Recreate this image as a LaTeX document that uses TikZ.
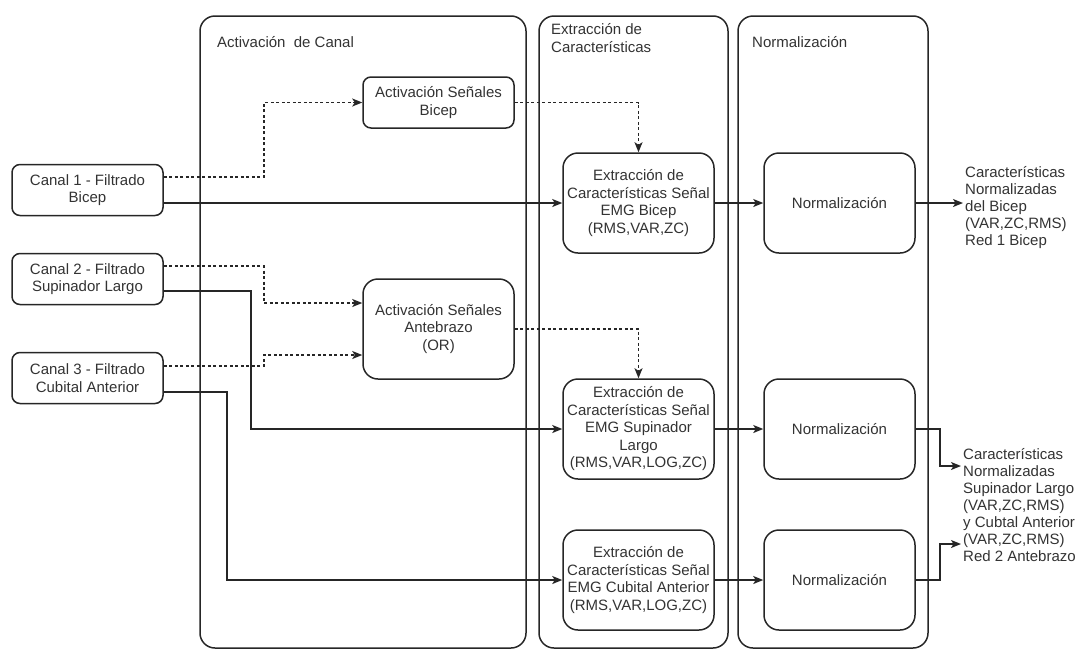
\documentclass[tikz,border=0pt]{standalone}
\usepackage{fontspec}
\setmainfont{Liberation Sans}
\usetikzlibrary{arrows.meta,positioning,calc}
\definecolor{ink}{HTML}{262626}
\definecolor{txt}{HTML}{333333}
\begin{document}
\begin{tikzpicture}[x=1pt,y=-1pt,
  every node/.style={text=txt,font=\fontsize{15}{17.5}\selectfont},
  lane/.style={draw=ink,line width=1.5pt,rounded corners=15pt},
  smallbox/.style={draw=ink,line width=1.5pt,rounded corners=8pt,align=center,
    minimum width=151pt,minimum height=51pt,inner sep=0pt},
  bigbox/.style={draw=ink,line width=1.5pt,rounded corners=15pt,align=center,
    minimum width=151pt,minimum height=100pt,inner sep=0pt},
  lanetitle/.style={anchor=west,inner sep=0pt,align=left},
  outtext/.style={anchor=west,inner sep=2pt,align=left,font=\fontsize{15}{17}\selectfont},
  flow/.style={draw=ink,line width=1.5pt,-{Stealth[length=10pt,width=8pt,inset=2.5pt]}},
  trigger/.style={flow,dash pattern=on 3pt off 2.5pt}]

\useasboundingbox (0,0) rectangle (1081,651);

% swimlanes
\draw[lane] (200,16) rectangle (526,648);
\draw[lane] (539,16) rectangle (728,648);
\draw[lane] (738,16) rectangle (928,648);
\node[lanetitle] (t1) at (217,42) {Activación\ \ de Canal};
\node[lanetitle] (t2) at (551,38) {Extracción de\\Características};
\node[lanetitle] (t3) at (752,42) {Normalización};

% input channels
\node[smallbox] (c1) at (87.5,190) {Canal 1 - Filtrado\\Bicep};
\node[smallbox] (c2) at (87.5,279) {Canal 2 - Filtrado\\Supinador Largo};
\node[smallbox] (c3) at (87.5,378) {Canal 3 - Filtrado\\Cubital Anterior};

% activation
\node[smallbox] (ab) at (438.5,102.5) {Activación Señales\\Bicep};
\node[bigbox] (aa) at (438.5,329) {Activación Señales\\Antebrazo\\(OR)};

% feature extraction
\node[bigbox] (e1) at (638.5,203) {Extracción de\\Características Señal\\EMG Bicep\\(RMS,VAR,ZC)};
\node[bigbox] (e2) at (638.5,429) {Extracción de\\Características Señal\\EMG Supinador\\Largo\\(RMS,VAR,LOG,ZC)};
\node[bigbox] (e3) at (638.5,580) {Extracción de\\Características Señal\\EMG Cubital Anterior\\(RMS,VAR,LOG,ZC)};

% normalization
\node[bigbox] (n1) at (839.5,203) {Normalización};
\node[bigbox] (n2) at (839.5,429) {Normalización};
\node[bigbox] (n3) at (839.5,580) {Normalización};

% outputs
\node[outtext] (o1) at (963,207.5) {Características\\Normalizadas\\del Bicep\\(VAR,ZC,RMS)\\Red 1 Bicep};
\node[outtext] (o2) at (961,505) {Características\\Normalizadas\\Supinador Largo\\(VAR,ZC,RMS)\\y Cubtal Anterior\\(VAR,ZC,RMS)\\Red 2 Antebrazo};

% activation triggers
\draw[trigger] ([yshift=13pt]c1.east) -- ++(100,0) |- (ab.west);
\draw[trigger] ([yshift=13pt]c2.east) -- ++(100,0) |- ([yshift=26pt]aa.west);
\draw[trigger] ([yshift=12pt]c3.east) -- ++(100,0) |- ([yshift=-26pt]aa.west);
\draw[trigger] (ab.east) -| (e1.north);
\draw[trigger] (aa.east) -| (e2.north);

% signal paths
\draw[flow] ([yshift=-13pt]c1.east) -- (e1.west);
\draw[flow] ([yshift=-12pt]c2.east) -- ++(87,0) |- (e2.west);
\draw[flow] ([yshift=-14pt]c3.east) -- ++(63,0) |- (e3.west);
\draw[flow] (e1) -- (n1);
\draw[flow] (e2) -- (n2);
\draw[flow] (e3) -- (n3);
\draw[flow] (n1.east) -- (n1.east -| o1.west);
\draw[flow] (n2.east) -- ++(24,0) |- ([yshift=39pt]o2.west);
\draw[flow] (n3.east) -- ++(24,0) |- ([yshift=-39pt]o2.west);
\end{tikzpicture}
\end{document}
